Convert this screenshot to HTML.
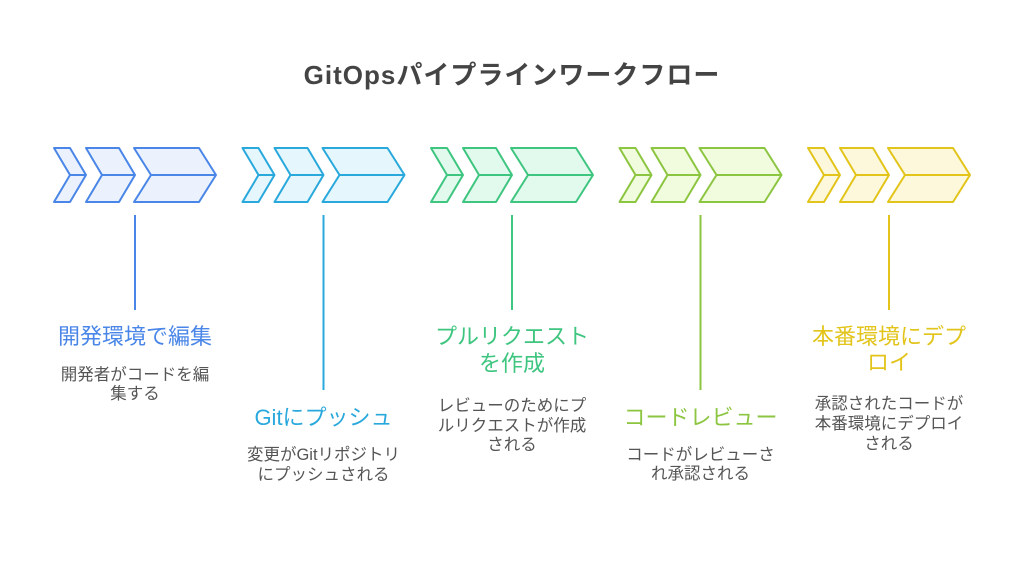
<!DOCTYPE html>
<html><head><meta charset="utf-8"><style>
html,body{margin:0;padding:0;background:#fff;}
body{width:1024px;height:566px;position:relative;overflow:hidden;font-family:"Liberation Sans","Noto Sans CJK JP",sans-serif;}
.t{position:absolute;white-space:nowrap;text-align:center;width:240px;}
.h{font-size:22px;height:26px;line-height:26px;}
.d{font-size:16.5px;height:20px;line-height:20px;color:#555;}
</style></head><body>
<div style="position:absolute;left:0;width:1024px;top:60px;height:30px;line-height:30px;text-align:center;font-size:26px;font-weight:bold;color:#444;letter-spacing:1px;">GitOpsパイプラインワークフロー</div>
<svg width="1024" height="566" style="position:absolute;left:0;top:0" xmlns="http://www.w3.org/2000/svg">
<g stroke-width="2" stroke-linejoin="round">
<!-- group template: x0 -->
<g transform="translate(54,0)" stroke="#4a86e8" fill="#ebf2fd">
<polygon points="0,148 16,148 32,175 16,202 0,202 16,175"/><line x1="16" y1="175" x2="32" y2="175"/>
<polygon points="32,148 65,148 81,175 65,202 32,202 48,175"/><line x1="48" y1="175" x2="81" y2="175"/>
<polygon points="80,148 145,148 162,175 145,202 80,202 97,175"/><line x1="97" y1="175" x2="162" y2="175"/>
<line x1="81" y1="215" x2="81" y2="310"/>
</g>
<g transform="translate(242.5,0)" stroke="#29a8dc" fill="#e5f6fd">
<polygon points="0,148 16,148 32,175 16,202 0,202 16,175"/><line x1="16" y1="175" x2="32" y2="175"/>
<polygon points="32,148 65,148 81,175 65,202 32,202 48,175"/><line x1="48" y1="175" x2="81" y2="175"/>
<polygon points="80,148 145,148 162,175 145,202 80,202 97,175"/><line x1="97" y1="175" x2="162" y2="175"/>
<line x1="81" y1="215" x2="81" y2="390"/>
</g>
<g transform="translate(431,0)" stroke="#3ec57f" fill="#e2faee">
<polygon points="0,148 16,148 32,175 16,202 0,202 16,175"/><line x1="16" y1="175" x2="32" y2="175"/>
<polygon points="32,148 65,148 81,175 65,202 32,202 48,175"/><line x1="48" y1="175" x2="81" y2="175"/>
<polygon points="80,148 145,148 162,175 145,202 80,202 97,175"/><line x1="97" y1="175" x2="162" y2="175"/>
<line x1="81" y1="215" x2="81" y2="310"/>
</g>
<g transform="translate(619.5,0)" stroke="#8cc540" fill="#f1fcdf">
<polygon points="0,148 16,148 32,175 16,202 0,202 16,175"/><line x1="16" y1="175" x2="32" y2="175"/>
<polygon points="32,148 65,148 81,175 65,202 32,202 48,175"/><line x1="48" y1="175" x2="81" y2="175"/>
<polygon points="80,148 145,148 162,175 145,202 80,202 97,175"/><line x1="97" y1="175" x2="162" y2="175"/>
<line x1="81" y1="215" x2="81" y2="390"/>
</g>
<g transform="translate(808,0)" stroke="#e2c41a" fill="#fdf8db">
<polygon points="0,148 16,148 32,175 16,202 0,202 16,175"/><line x1="16" y1="175" x2="32" y2="175"/>
<polygon points="32,148 65,148 81,175 65,202 32,202 48,175"/><line x1="48" y1="175" x2="81" y2="175"/>
<polygon points="80,148 145,148 162,175 145,202 80,202 97,175"/><line x1="97" y1="175" x2="162" y2="175"/>
<line x1="81" y1="215" x2="81" y2="310"/>
</g>
</g>
</svg>

<!-- group 1, cx=135 -->
<div class="t h" style="left:15px;top:324px;color:#4a86e8">開発環境で編集</div>
<div class="t d" style="left:15px;top:365px">開発者がコードを編</div>
<div class="t d" style="left:15px;top:384px">集する</div>

<!-- group 2, cx=323.5 -->
<div class="t h" style="left:203.5px;top:404.5px;color:#29a8dc">Gitにプッシュ</div>
<div class="t d" style="left:203.5px;top:445px">変更がGitリポジトリ</div>
<div class="t d" style="left:203.5px;top:465px">にプッシュされる</div>

<!-- group 3, cx=512 -->
<div class="t h" style="left:392px;top:324px;color:#3ec57f">プルリクエスト</div>
<div class="t h" style="left:392px;top:351px;color:#3ec57f">を作成</div>
<div class="t d" style="left:392px;top:396px">レビューのためにプ</div>
<div class="t d" style="left:392px;top:416px">ルリクエストが作成</div>
<div class="t d" style="left:392px;top:435px">される</div>

<!-- group 4, cx=700.5 -->
<div class="t h" style="left:580.5px;top:405px;color:#8cc540">コードレビュー</div>
<div class="t d" style="left:580.5px;top:445px">コードがレビューさ</div>
<div class="t d" style="left:580.5px;top:464px">れ承認される</div>

<!-- group 5, cx=889 -->
<div class="t h" style="left:769px;top:324px;color:#e2c41a">本番環境にデプ</div>
<div class="t h" style="left:769px;top:350px;color:#e2c41a">ロイ</div>
<div class="t d" style="left:769px;top:394px">承認されたコードが</div>
<div class="t d" style="left:769px;top:414px">本番環境にデプロイ</div>
<div class="t d" style="left:769px;top:434px">される</div>
</body></html>
